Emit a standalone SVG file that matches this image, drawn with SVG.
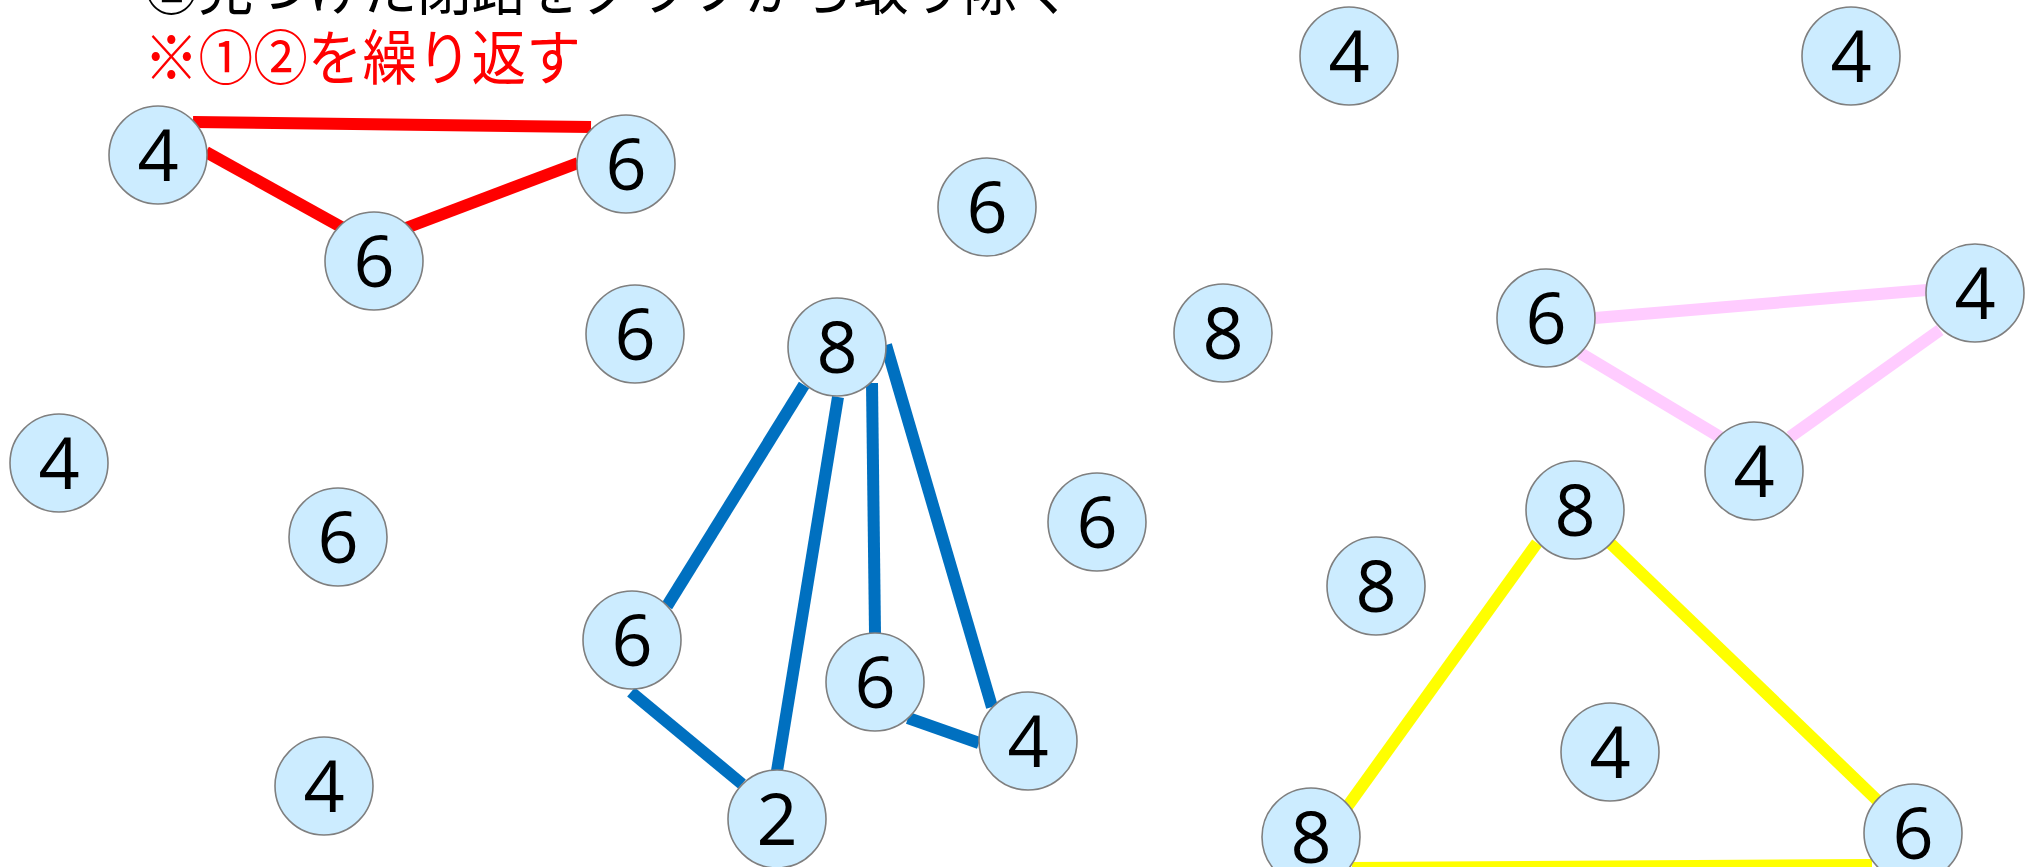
<svg xmlns="http://www.w3.org/2000/svg" width="2027" height="867" viewBox="0 0 2027 867">
<style>
.n circle{fill:#CCECFF;stroke:#7F7F7F;stroke-width:1.6}
.n text{font-family:"Open Sans","Noto Sans",sans-serif;font-size:72px;fill:#000;text-anchor:middle}
.e line{stroke-width:12;stroke-linecap:butt}
.r{stroke:#FF0000}
.b{stroke:#0070C0}
.y{stroke:#FFFF00}
.p{stroke:#FFCCFF}
.t{font-family:"Noto Sans CJK JP","Noto Sans",sans-serif;font-size:60px}
</style>
<rect width="2027" height="867" fill="#FFFFFF"/>
<g id="title">
<text class="t" transform="translate(144,10) scale(0.91,1)" fill="#000000">②見つけた閉路をグラフから取り除く</text>
<text class="t" transform="translate(144,80) scale(0.91,1)" fill="#FF0000">※①②を繰り返す</text>
</g>
<g id="connectors" class="e">
<line class="r" x1="193" y1="122" x2="591" y2="127"/>
<line class="r" x1="206" y1="152" x2="343" y2="228"/>
<line class="r" x1="406" y1="228" x2="578" y2="163"/>
<line class="b" x1="804" y1="385" x2="667" y2="606"/>
<line class="b" x1="838" y1="397" x2="777" y2="771"/>
<line class="b" x1="872" y1="383" x2="875" y2="633"/>
<line class="b" x1="886" y1="345" x2="992" y2="707"/>
<line class="b" x1="631" y1="692" x2="742" y2="784"/>
<line class="b" x1="908" y1="718" x2="979" y2="743"/>
<line class="y" x1="1537" y1="543" x2="1347" y2="807"/>
<line class="y" x1="1610" y1="543" x2="1879" y2="802"/>
<line class="y" x1="1352" y1="868" x2="1872" y2="865"/>
<line class="p" x1="1595" y1="318" x2="1927" y2="290"/>
<line class="p" x1="1580" y1="353" x2="1720" y2="437"/>
<line class="p" x1="1940" y1="330" x2="1790" y2="437"/>
</g>
<g id="n1" class="n"><circle cx="158" cy="155" r="49"/><text x="158" y="181">4</text></g>
<g id="n2" class="n"><circle cx="626" cy="164" r="49"/><text x="626" y="190">6</text></g>
<g id="n3" class="n"><circle cx="374" cy="261" r="49"/><text x="374" y="287">6</text></g>
<g id="n4" class="n"><circle cx="987" cy="207" r="49"/><text x="987" y="233">6</text></g>
<g id="n5" class="n"><circle cx="635" cy="334" r="49"/><text x="635" y="360">6</text></g>
<g id="n6" class="n"><circle cx="837" cy="347" r="49"/><text x="837" y="373">8</text></g>
<g id="n7" class="n"><circle cx="1223" cy="333" r="49"/><text x="1223" y="359">8</text></g>
<g id="n8" class="n"><circle cx="59" cy="463" r="49"/><text x="59" y="489">4</text></g>
<g id="n9" class="n"><circle cx="338" cy="537" r="49"/><text x="338" y="563">6</text></g>
<g id="n10" class="n"><circle cx="1097" cy="522" r="49"/><text x="1097" y="548">6</text></g>
<g id="n11" class="n"><circle cx="632" cy="640" r="49"/><text x="632" y="666">6</text></g>
<g id="n12" class="n"><circle cx="875" cy="682" r="49"/><text x="875" y="708">6</text></g>
<g id="n13" class="n"><circle cx="1028" cy="741" r="49"/><text x="1028" y="767">4</text></g>
<g id="n14" class="n"><circle cx="777" cy="819" r="49"/><text x="777" y="845">2</text></g>
<g id="n15" class="n"><circle cx="324" cy="786" r="49"/><text x="324" y="812">4</text></g>
<g id="n16" class="n"><circle cx="1349" cy="56" r="49"/><text x="1349" y="82">4</text></g>
<g id="n17" class="n"><circle cx="1851" cy="56" r="49"/><text x="1851" y="82">4</text></g>
<g id="n18" class="n"><circle cx="1546" cy="318" r="49"/><text x="1546" y="344">6</text></g>
<g id="n19" class="n"><circle cx="1975" cy="293" r="49"/><text x="1975" y="319">4</text></g>
<g id="n20" class="n"><circle cx="1754" cy="471" r="49"/><text x="1754" y="497">4</text></g>
<g id="n21" class="n"><circle cx="1575" cy="510" r="49"/><text x="1575" y="536">8</text></g>
<g id="n22" class="n"><circle cx="1376" cy="586" r="49"/><text x="1376" y="612">8</text></g>
<g id="n23" class="n"><circle cx="1610" cy="752" r="49"/><text x="1610" y="778">4</text></g>
<g id="n24" class="n"><circle cx="1311" cy="837" r="49"/><text x="1311" y="863">8</text></g>
<g id="n25" class="n"><circle cx="1913" cy="833" r="49"/><text x="1913" y="859">6</text></g>
</svg>
